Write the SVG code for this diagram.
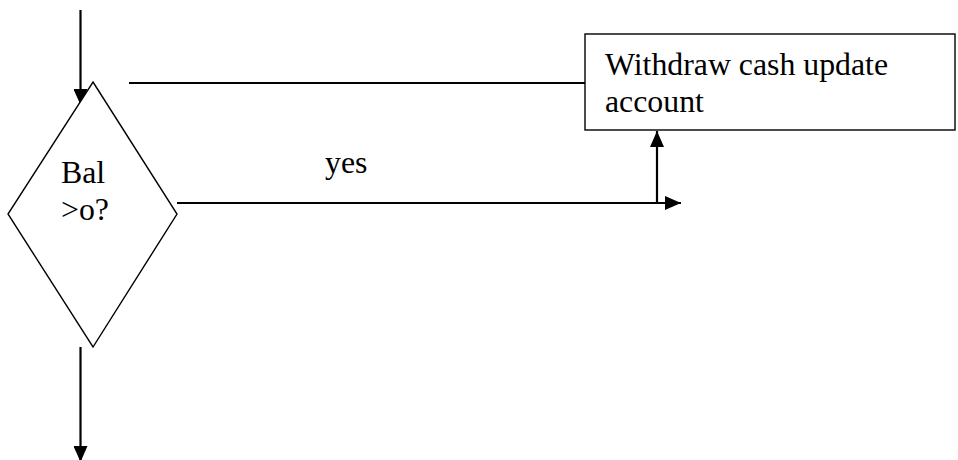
<svg xmlns="http://www.w3.org/2000/svg" width="958" height="460" viewBox="0 0 958 460">
<style>
.ln{stroke:#000;stroke-width:2.2;fill:none}
.shape{stroke:#000;stroke-width:1.4;fill:#fff}
.t{font-family:"Liberation Serif",serif;font-size:31.8px;fill:#000}
</style>
<defs>
<marker id="ah" viewBox="0 0 16 14" refX="16" refY="7" markerWidth="16" markerHeight="14" markerUnits="userSpaceOnUse" orient="auto">
<path d="M0,0 L16,7 L0,14 Z" fill="#000"/>
</marker>
</defs>
<rect width="958" height="460" fill="#fff"/>
<g id="connectors">
<line class="ln" x1="80.5" y1="10" x2="80.5" y2="105" marker-end="url(#ah)"/>
<line class="ln" x1="129" y1="83" x2="585" y2="83"/>
<line class="ln" x1="177" y1="203" x2="681" y2="203" marker-end="url(#ah)"/>
<line class="ln" x1="657" y1="203" x2="657" y2="131" marker-end="url(#ah)"/>
<line class="ln" x1="80.5" y1="347" x2="80.5" y2="462" marker-end="url(#ah)"/>
</g>
<g id="decision">
<polygon class="shape" points="93,82 177,214 93,347 8,214"/>
<text class="t" x="61" y="183">Bal</text>
<text class="t" x="61" y="220">&gt;o?</text>
</g>
<g id="withdraw">
<rect class="shape" x="585" y="34" width="370" height="96"/>
<text class="t" x="605" y="75">Withdraw cash update</text>
<text class="t" x="605" y="112">account</text>
</g>
<g id="yes-label">
<text class="t" x="325" y="173">yes</text>
</g>
</svg>
